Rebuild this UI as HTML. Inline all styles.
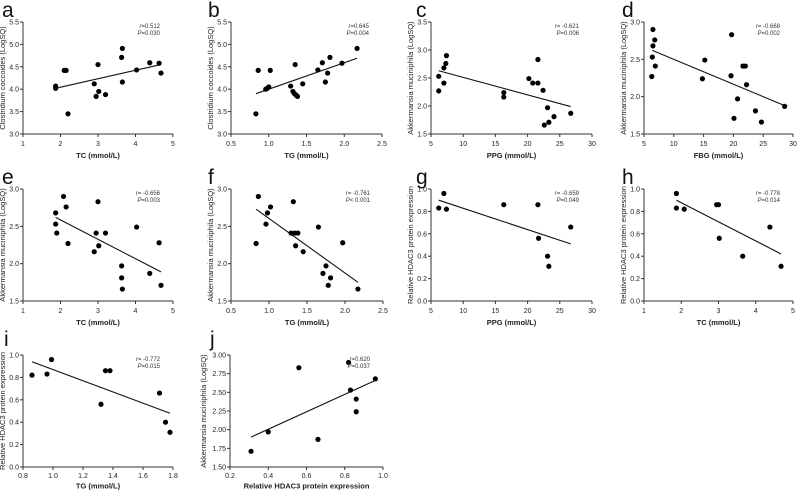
<!DOCTYPE html>
<html><head><meta charset="utf-8"><style>
body{margin:0;background:#fff;}
svg{display:block;font-family:"Liberation Sans",Arial,sans-serif;}
</style></head><body>
<svg id="fig" width="798" height="491" viewBox="0 0 798 491"></svg>
<script>
// ---- data ----
const aX=[1.87,1.87,2.1,2.15,2.2,2.9,2.95,3.0,3.02,3.2,3.63,3.65,3.65,4.03,4.38,4.63,4.68];
const aY=[4.07,4.02,4.42,4.42,3.45,4.12,3.84,4.55,3.95,3.88,4.71,4.91,4.16,4.43,4.59,4.58,4.36];
const aLine=[1.87,4.02,4.68,4.55];
const bX=[0.83,0.86,0.96,0.98,1.0,1.02,1.29,1.32,1.34,1.35,1.36,1.38,1.45,1.65,1.71,1.75,1.78,1.81,1.97,2.17];
const bY=[3.45,4.42,4.0,4.02,4.05,4.42,4.07,3.95,3.9,4.55,3.87,3.84,4.12,4.43,4.59,4.16,4.36,4.71,4.58,4.91];
const bLine=[0.83,3.9,2.17,4.69];
const cX=[6.2,6.2,7.0,7.0,7.3,7.4,16.3,16.3,20.2,20.8,21.6,21.6,22.4,22.6,23.1,23.3,24.1,26.7];
const cY=[2.53,2.27,2.68,2.41,2.76,2.9,2.24,2.16,2.49,2.41,2.41,2.83,2.28,1.66,1.97,1.71,1.81,1.87];
const cLine=[6.2,2.63,26.7,1.99];
const dX=[6.3,6.4,6.5,6.5,6.8,6.9,14.8,15.2,19.6,19.7,20.1,20.7,21.6,22.0,22.2,23.7,24.7,28.6];
const dY=[2.27,2.53,2.68,2.9,2.76,2.41,2.24,2.49,2.28,2.83,1.71,1.97,2.41,2.41,2.16,1.81,1.66,1.87];
const dLine=[6.4,2.62,28.6,1.88];
const eX=[1.87,1.87,1.9,2.08,2.15,2.2,2.9,2.95,3.0,3.02,3.2,3.63,3.63,3.65,4.03,4.38,4.63,4.68];
const eY=[2.68,2.53,2.41,2.9,2.76,2.27,2.16,2.41,2.83,2.24,2.41,1.97,1.81,1.66,2.49,1.87,2.28,1.71];
const eLine=[1.87,2.62,4.68,1.89];
const fX=[0.83,0.86,0.96,0.98,1.02,1.29,1.32,1.34,1.35,1.38,1.45,1.65,1.71,1.75,1.78,1.81,1.97,2.17];
const fY=[2.27,2.9,2.53,2.68,2.76,2.41,2.83,2.41,2.24,2.41,2.16,2.49,1.87,1.97,1.71,1.81,2.28,1.66];
const fLine=[0.83,2.73,2.17,1.75];
const gX=[6.2,7.0,7.4,16.3,21.6,21.7,23.1,23.3,26.7];
const gY=[0.83,0.96,0.82,0.86,0.86,0.56,0.4,0.31,0.66];
const gLine=[6.2,0.9,26.7,0.51];
const hX=[1.87,1.87,2.08,2.95,3.0,3.02,3.65,4.38,4.68];
const hY=[0.96,0.83,0.82,0.86,0.86,0.56,0.4,0.66,0.31];
const hLine=[1.87,0.9,4.68,0.42];
const iX=[0.86,0.96,0.99,1.32,1.35,1.38,1.71,1.75,1.78];
const iY=[0.82,0.83,0.96,0.56,0.86,0.86,0.66,0.4,0.31];
const iLine=[0.86,0.94,1.78,0.48];
const jX=[0.31,0.4,0.56,0.66,0.82,0.83,0.86,0.86,0.96];
const jY=[1.71,1.97,2.83,1.87,2.9,2.53,2.41,2.24,2.68];
const jLine=[0.31,1.9,0.96,2.66];

const xTicksTC=["1","2","3","4","5"], xTicksTG=["0.5","1.0","1.5","2.0","2.5"], xTicksPG=["5","10","15","20","25","30"];
const yTicksCl=["3.0","3.5","4.0","4.5","5.0","5.5"], yTicksAk=["1.5","2.0","2.5","3.0"], yTicksAk3=["1.5","2.0","2.5","3.0","3.5"];
const yTicksH=["0.0","0.2","0.4","0.6","0.8","1.0"], xTicksTGi=["0.8","1.0","1.2","1.4","1.6","1.8"];
const xTicksH=["0.2","0.4","0.6","0.8","1.0"], yTicksJ=["1.50","1.75","2.00","2.25","2.50","2.75","3.00"];

const AK="Akkermansia muciniphila (LogSQ)", CL="Clostridium coccoides (LogSQ)", HD="Relative HDAC3 protein expression";
const panels=[
 {id:"a",L:23,R:173,T:22,B:134,xt:xTicksTC,yt:yTicksCl,xs:aX,ys:aY,ln:aLine,xl:"TC (mmol/L)",yl:CL,r:"=0.512",p:"=0.030"},
 {id:"b",L:231,R:382,T:22,B:134,xt:xTicksTG,yt:yTicksCl,xs:bX,ys:bY,ln:bLine,xl:"TG (mmol/L)",yl:CL,r:"=0.645",p:"=0.004"},
 {id:"c",L:431,R:592,T:22,B:134,xt:xTicksPG,yt:yTicksAk3,xs:cX,ys:cY,ln:cLine,xl:"PPG (mmol/L)",yl:AK,r:"= -0.621",p:"=0.006"},
 {id:"d",L:644,R:793,T:22,B:134,xt:xTicksPG,yt:yTicksAk,xs:dX,ys:dY,ln:dLine,xl:"FBG (mmol/L)",yl:AK,r:"= -0.668",p:"=0.002"},
 {id:"e",L:23,R:173,T:189,B:301,xt:xTicksTC,yt:yTicksAk,xs:eX,ys:eY,ln:eLine,xl:"TC (mmol/L)",yl:AK,r:"= -0.656",p:"=0.003"},
 {id:"f",L:231,R:383,T:189,B:301,xt:xTicksTG,yt:yTicksAk,xs:fX,ys:fY,ln:fLine,xl:"TG (mmol/L)",yl:AK,r:"= -0.761",p:"< 0.001"},
 {id:"g",L:431,R:592,T:189,B:301,xt:xTicksPG,yt:yTicksH,xs:gX,ys:gY,ln:gLine,xl:"PPG (mmol/L)",yl:HD,r:"= -0.659",p:"=0.049"},
 {id:"h",L:644,R:793,T:189,B:301,xt:xTicksTC,yt:yTicksH,xs:hX,ys:hY,ln:hLine,xl:"TC (mmol/L)",yl:HD,r:"= -0.778",p:"=0.014"},
 {id:"i",L:23,R:173,T:355,B:467,xt:xTicksTGi,yt:yTicksH,xs:iX,ys:iY,ln:iLine,xl:"TG (mmol/L)",yl:HD,r:"= -0.772",p:"=0.015"},
 {id:"j",L:230,R:383,T:355,B:467,xt:xTicksH,yt:yTicksJ,xs:jX,ys:jY,ln:jLine,xl:"Relative HDAC3 protein expression",yl:AK,r:"=0.620",p:"=0.037"}
];
const letterX={a:2,b:208,c:416,d:622,e:2,f:208,g:416,h:622,i:4,j:210};
const NS="http://www.w3.org/2000/svg", svg=document.getElementById("fig");
function mk(tag,attrs,parent,txt){const e=document.createElementNS(NS,tag);for(const k in attrs)e.setAttribute(k,attrs[k]);if(txt!==undefined)e.textContent=txt;parent.appendChild(e);return e;}
panels.forEach(P=>{
  const g=mk("g",{},svg);
  
  
  const last=P.T>300;
  const x0=+P.xt[0],x1=+P.xt[P.xt.length-1],y0=+P.yt[0],y1=+P.yt[P.yt.length-1];
  const sx=v=>P.L+(v-x0)/(x1-x0)*(P.R-P.L), sy=v=>P.B-(v-y0)/(y1-y0)*(P.B-P.T);
  const lt=mk("text",{x:letterX[P.id],y:P.T-(last?9:5),"font-size":21,fill:"#111"},g,P.id);
  
  
  const ax=mk("path",{d:`M${P.L},${P.T}V${P.B}H${P.R}`,stroke:"#333",fill:"none","stroke-width":1},g);
  
  
  P.xt.forEach(t=>{const x=sx(+t);mk("line",{x1:x,x2:x,y1:P.B,y2:P.B+3,stroke:"#333"},g);
    const tx=mk("text",{x:x,y:P.B+(last?11:12),"font-size":7,"text-anchor":"middle",fill:"#222"},g,t);
    
    });
  P.yt.forEach(t=>{const y=sy(+t);mk("line",{x1:P.L-3,x2:P.L,y1:y,y2:y,stroke:"#333"},g);
    const ty=mk("text",{x:P.L-4,y:y+2.5,"font-size":7,"text-anchor":"end",fill:"#222"},g,t);
    
    });
  const xt=mk("text",{x:(P.L+P.R)/2,y:P.B+(last?21.5:24),"font-size":7.5,"font-weight":"bold","text-anchor":"middle",fill:"#222"},g,P.xl);
  
  
  const yc=(P.T+P.B)/2, yx=P.L-(P.yt[0].length>3?24:18);
  const yt=mk("text",{x:yx,y:yc,"font-size":7.5,"text-anchor":"middle",fill:"#222",transform:`rotate(-90 ${yx} ${yc})`},g,P.yl);
  
  
  const ln=mk("line",{x1:sx(P.ln[0]),y1:sy(P.ln[1]),x2:sx(P.ln[2]),y2:sy(P.ln[3]),stroke:"#111","stroke-width":1.1},g);
  
  
  P.xs.forEach((v,k)=>{const c=mk("circle",{cx:sx(v),cy:sy(P.ys[k]),r:2.6,fill:"#000"},g);
    
    });
  const rx=P.R-13;
  const rt=mk("text",{x:rx,y:P.T+6,"font-size":6,"text-anchor":"end",fill:"#333"},g);
  
  
  mk("tspan",{"font-style":"italic"},rt,"r");mk("tspan",{},rt,P.r);
  const pt=mk("text",{x:rx,y:P.T+13,"font-size":6,"text-anchor":"end",fill:"#333"},g);
  
  
  mk("tspan",{"font-style":"italic"},pt,"P");mk("tspan",{},pt,P.p);
});
</script>
</body></html>
